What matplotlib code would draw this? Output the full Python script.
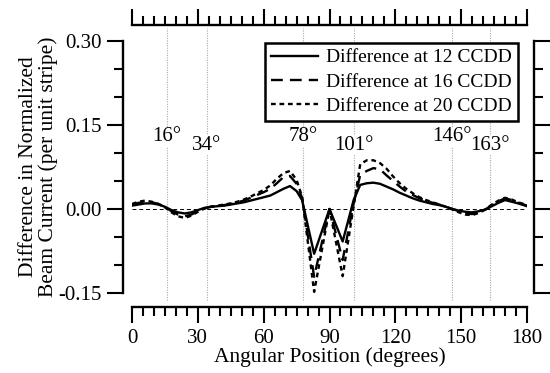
import matplotlib
matplotlib.use("Agg")
import matplotlib.pyplot as plt
from matplotlib.ticker import MultipleLocator, FixedLocator

plt.rcParams['font.family'] = ['Liberation Serif', 'DejaVu Serif']

angles = [0, 3, 6, 9, 12, 15, 18, 21, 24, 27, 30, 33, 36, 39, 42, 45, 48, 51, 54, 57,
          60, 63, 66, 69, 72, 75, 77.5, 83, 90, 96, 101, 104, 107, 110, 113, 116, 119,
          122, 125, 128, 131, 134, 137, 140, 143, 146, 149, 152, 155, 158, 161, 164,
          167, 170, 173, 176, 180]

diff12 = [0.006, 0.008, 0.010, 0.010, 0.008, 0.004, -0.002, -0.006, -0.008, -0.006,
          -0.002, 0.002, 0.004, 0.005, 0.006, 0.008, 0.010, 0.012, 0.015, 0.018,
          0.021, 0.024, 0.030, 0.036, 0.041, 0.032, 0.016, -0.080, 0.000, -0.058,
          0.016, 0.043, 0.046, 0.047, 0.045, 0.040, 0.035, 0.029, 0.024, 0.019,
          0.015, 0.012, 0.009, 0.007, 0.004, 0.000, -0.003, -0.005, -0.006, -0.004,
          -0.001, 0.005, 0.011, 0.016, 0.013, 0.010, 0.005]

diff16 = [0.008, 0.011, 0.013, 0.012, 0.009, 0.004, -0.004, -0.010, -0.013, -0.010,
          -0.004, 0.001, 0.004, 0.006, 0.007, 0.009, 0.012, 0.015, 0.020, 0.025,
          0.030, 0.036, 0.046, 0.057, 0.059, 0.045, 0.020, -0.121, 0.000, -0.091,
          0.010, 0.061, 0.068, 0.073, 0.071, 0.060, 0.050, 0.040, 0.031, 0.025,
          0.019, 0.015, 0.011, 0.008, 0.004, 0.000, -0.004, -0.008, -0.009, -0.006,
          -0.001, 0.007, 0.014, 0.019, 0.016, 0.011, 0.006]

diff20 = [0.009, 0.013, 0.015, 0.013, 0.009, 0.003, -0.006, -0.013, -0.016, -0.012,
          -0.005, 0.001, 0.004, 0.006, 0.008, 0.010, 0.013, 0.017, 0.022, 0.028,
          0.034, 0.042, 0.054, 0.064, 0.068, 0.052, 0.022, -0.148, 0.000, -0.120,
          0.005, 0.080, 0.087, 0.087, 0.082, 0.072, 0.058, 0.046, 0.036, 0.028,
          0.021, 0.016, 0.012, 0.008, 0.004, -0.001, -0.006, -0.010, -0.011, -0.007,
          -0.001, 0.008, 0.015, 0.020, 0.017, 0.012, 0.007]

series_labels = ['Difference at 12 CCDD', 'Difference at 16 CCDD', 'Difference at 20 CCDD']
marker_angles = [16, 34, 78, 101, 146, 163]
marker_labels = ['16°', '34°', '78°', '101°', '146°', '163°']
marker_label_y = [0.129, 0.114, 0.129, 0.114, 0.129, 0.114]
y_ticks = [-0.15, 0.00, 0.15, 0.30]
y_ticklabels = ['-0.15', '0.00', '0.15', '0.30']
x_ticks = [0, 30, 60, 90, 120, 150, 180]

W, H = 550, 373
fig = plt.figure(figsize=(W / 100, H / 100), dpi=100)
L, R, T, B = 132, 527, 41, 293
ax = fig.add_axes([L / W, (H - B) / H, (R - L) / W, (B - T) / H])

ax.set_xlim(0, 180)
ax.set_ylim(-0.15, 0.30)

lw = 1.7
ax.plot(angles, diff12, color='black', lw=lw, ls='-', label=series_labels[0])
ax.plot(angles, diff16, color='black', lw=lw, ls=(0, (5, 3)), label=series_labels[1])
ax.plot(angles, diff20, color='black', lw=lw, ls=(0, (2, 1.6)), label=series_labels[2])

ax.axhline(0, color='black', lw=0.7, ls=(0, (4, 3)), zorder=1)

for a, lab, ly in zip(marker_angles, marker_labels, marker_label_y):
    ax.axvline(a, ymin=-0.028, ymax=1.052, color='#aaaaaa', lw=0.8,
               ls=(0, (1, 1.2)), clip_on=False, zorder=0)
    ax.text(a, ly, lab, ha='center', va='center', fontsize=15,
            bbox=dict(facecolor='white', edgecolor='none', pad=0.5), zorder=2)

px = 72 / 100
for side, off in (('left', 9), ('right', 7), ('bottom', 14), ('top', 16)):
    ax.spines[side].set_position(('outward', off * px))
    ax.spines[side].set_linewidth(1.7)

ax.yaxis.set_major_locator(FixedLocator(y_ticks))
ax.set_yticklabels(y_ticklabels)
ax.yaxis.set_minor_locator(MultipleLocator(0.05))
ax.xaxis.set_major_locator(FixedLocator(x_ticks))
ax.xaxis.set_minor_locator(MultipleLocator(5))

ax.tick_params(axis='both', which='major', direction='out', length=16 * px, width=1.5,
               labelsize=15, pad=4, top=True, right=True, labeltop=False, labelright=False)
ax.tick_params(axis='both', which='minor', direction='out', length=9 * px, width=1.5,
               top=True, right=True)

ax.set_xlabel('Angular Position (degrees)', fontsize=15.5, labelpad=0)
ax.set_ylabel('Difference in Normalized\nBeam Current (per unit stripe)', fontsize=15.5,
              labelpad=0, linespacing=1.0)

leg = ax.legend(loc='upper right', bbox_to_anchor=((518 - L) / (R - L), 1.0 - (43 - T) / (B - T)),
                fontsize=14, frameon=True, fancybox=False, framealpha=1, handlelength=2.4,
                borderpad=0.3, labelspacing=0.35, handletextpad=0.45, borderaxespad=0)
leg.get_frame().set_edgecolor('black')
leg.get_frame().set_linewidth(1.8)

fig.savefig('out.png', dpi=100)
